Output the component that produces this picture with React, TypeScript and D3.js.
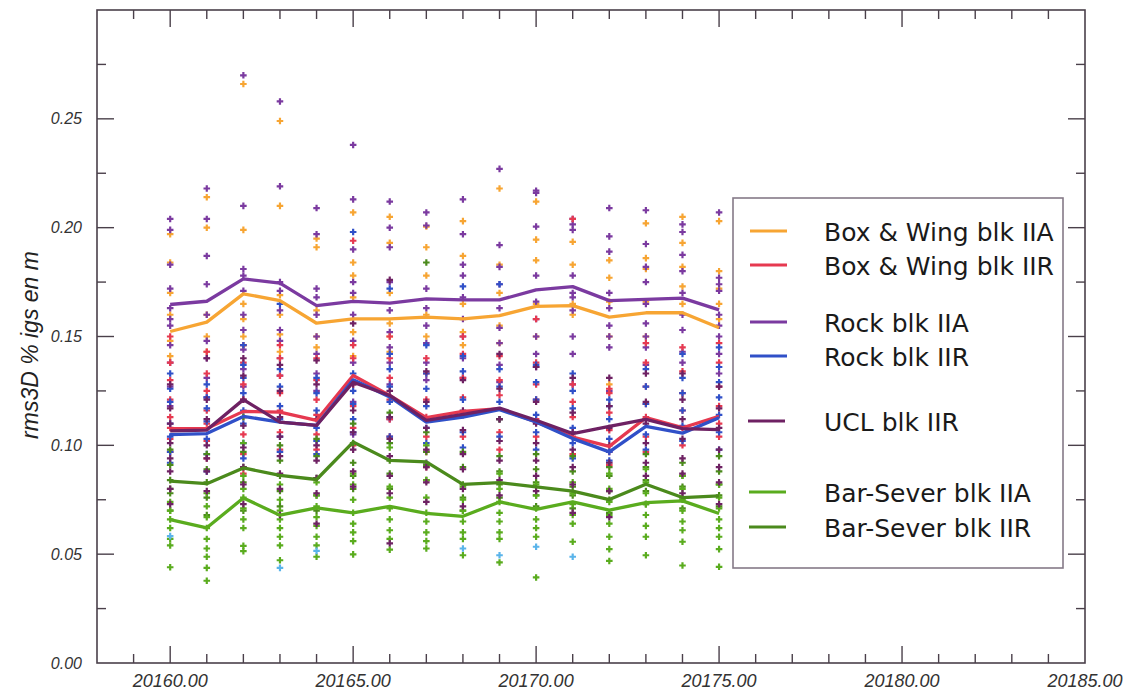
import React from "react";
import * as d3 from "d3";

// ---------------- DATA ----------------
const epochs = [20160, 20161, 20162, 20163, 20164, 20165, 20166, 20167, 20168, 20169, 20170, 20171, 20172, 20173, 20174, 20175];

const seriesNames = [
  "Box & Wing blk IIA",
  "Box & Wing blk IIR",
  "Rock blk IIA",
  "Rock blk IIR",
  "UCL blk IIR",
  "Bar-Sever blk IIA",
  "Bar-Sever blk IIR",
];

// mean lines
const boxWingIIA = [0.1523, 0.1566, 0.1696, 0.1665, 0.1561, 0.1581, 0.1581, 0.1589, 0.1581, 0.1596, 0.1638, 0.1642, 0.1589, 0.1609, 0.1609, 0.154];
const boxWingIIR = [0.1077, 0.1077, 0.1156, 0.1153, 0.1115, 0.1321, 0.1229, 0.1127, 0.1156, 0.1168, 0.1107, 0.1038, 0.0995, 0.1127, 0.1081, 0.1133];
const rockIIA = [0.1647, 0.1662, 0.1765, 0.1745, 0.1642, 0.1661, 0.1653, 0.1673, 0.1668, 0.1668, 0.1714, 0.1729, 0.1665, 0.1671, 0.1676, 0.1622];
const rockIIR = [0.1049, 0.1054, 0.1133, 0.1107, 0.1092, 0.1301, 0.1222, 0.1107, 0.113, 0.1164, 0.1107, 0.1031, 0.097, 0.1087, 0.1056, 0.1127];
const uclIIR = [0.1066, 0.107, 0.121, 0.1107, 0.1092, 0.129, 0.1229, 0.1115, 0.1142, 0.1171, 0.1115, 0.1054, 0.1087, 0.1119, 0.1077, 0.1072];
const barSeverIIA = [0.0659, 0.0621, 0.0758, 0.0679, 0.0713, 0.069, 0.072, 0.0687, 0.0674, 0.074, 0.0706, 0.074, 0.0702, 0.0737, 0.0745, 0.0687];
const barSeverIIR = [0.0836, 0.0824, 0.0896, 0.0862, 0.0843, 0.1015, 0.0931, 0.0924, 0.0821, 0.0829, 0.0809, 0.079, 0.0751, 0.0821, 0.076, 0.0768];

// individual solutions (scatter), one list per epoch
const boxWingIIAPts = [
  [0.197, 0.184, 0.170, 0.160, 0.148, 0.141],
  [0.214, 0.200, 0.160, 0.150, 0.143],
  [0.266, 0.199, 0.165, 0.158, 0.150, 0.146],
  [0.249, 0.210, 0.169, 0.160, 0.151, 0.143],
  [0.195, 0.191, 0.162, 0.150, 0.145],
  [0.207, 0.184, 0.178, 0.168, 0.152, 0.141],
  [0.205, 0.193, 0.170, 0.156, 0.150, 0.143],
  [0.2005, 0.191, 0.178, 0.160, 0.150],
  [0.203, 0.187, 0.165, 0.152, 0.146],
  [0.218, 0.183, 0.170, 0.155, 0.147],
  [0.212, 0.1945, 0.185, 0.165, 0.150],
  [0.1935, 0.183, 0.165, 0.160],
  [0.185, 0.177, 0.166, 0.150, 0.128],
  [0.202, 0.186, 0.181, 0.166, 0.150],
  [0.205, 0.193, 0.182, 0.173, 0.165],
  [0.203, 0.180, 0.172, 0.165, 0.158],
];
const rockIIAPts = [
  [0.204, 0.199, 0.183, 0.172, 0.163, 0.158, 0.155, 0.146, 0.138, 0.127, 0.118],
  [0.218, 0.204, 0.187, 0.174, 0.160, 0.148, 0.140, 0.131, 0.122],
  [0.270, 0.210, 0.181, 0.178, 0.171, 0.160, 0.153, 0.144, 0.135, 0.127],
  [0.258, 0.219, 0.175, 0.171, 0.162, 0.153, 0.148, 0.140, 0.132],
  [0.209, 0.197, 0.172, 0.168, 0.160, 0.150, 0.142, 0.133, 0.125],
  [0.238, 0.213, 0.190, 0.175, 0.170, 0.160, 0.148, 0.138, 0.120, 0.105],
  [0.212, 0.200, 0.191, 0.175, 0.162, 0.152, 0.145, 0.138, 0.128, 0.112],
  [0.207, 0.201, 0.172, 0.163, 0.155, 0.147, 0.138, 0.130, 0.092],
  [0.213, 0.197, 0.183, 0.178, 0.168, 0.158, 0.150, 0.140, 0.131],
  [0.227, 0.192, 0.182, 0.174, 0.163, 0.154, 0.147, 0.137, 0.129],
  [0.217, 0.216, 0.2005, 0.178, 0.166, 0.158, 0.150, 0.142, 0.136],
  [0.204, 0.2015, 0.199, 0.178, 0.170, 0.168, 0.162, 0.150, 0.142, 0.128],
  [0.209, 0.196, 0.189, 0.170, 0.163, 0.155, 0.150, 0.145, 0.125],
  [0.208, 0.1925, 0.182, 0.175, 0.165, 0.156, 0.150, 0.145, 0.137],
  [0.2015, 0.198, 0.1875, 0.180, 0.170, 0.160, 0.153, 0.143, 0.138],
  [0.207, 0.177, 0.174, 0.171, 0.160, 0.155, 0.150, 0.142, 0.133],
];
const boxWingIIRPts = [
  [0.150, 0.138, 0.130, 0.121, 0.113, 0.108, 0.103, 0.097],
  [0.143, 0.133, 0.125, 0.116, 0.110, 0.102, 0.094],
  [0.146, 0.138, 0.128, 0.121, 0.113, 0.105, 0.096, 0.087],
  [0.146, 0.140, 0.132, 0.124, 0.116, 0.106, 0.098],
  [0.140, 0.130, 0.121, 0.114, 0.105, 0.098],
  [0.194, 0.146, 0.140, 0.128, 0.118, 0.108, 0.100],
  [0.150, 0.140, 0.131, 0.121, 0.112, 0.104],
  [0.140, 0.133, 0.121, 0.113, 0.104, 0.097, 0.090],
  [0.150, 0.142, 0.131, 0.122, 0.114, 0.104],
  [0.141, 0.130, 0.123, 0.112, 0.106, 0.098],
  [0.158, 0.138, 0.128, 0.121, 0.112, 0.104],
  [0.204, 0.128, 0.120, 0.113, 0.104, 0.096],
  [0.126, 0.124, 0.115, 0.107, 0.097, 0.091],
  [0.147, 0.138, 0.127, 0.119, 0.113, 0.104, 0.097],
  [0.145, 0.134, 0.124, 0.116, 0.108, 0.100],
  [0.147, 0.138, 0.127, 0.118, 0.110, 0.104],
];
const rockIIRPts = [
  [0.133, 0.126, 0.120, 0.110, 0.104, 0.097, 0.092],
  [0.128, 0.122, 0.117, 0.111, 0.103, 0.096, 0.088],
  [0.146, 0.137, 0.131, 0.124, 0.116, 0.110, 0.101, 0.094],
  [0.165, 0.135, 0.127, 0.118, 0.112, 0.104, 0.097],
  [0.131, 0.124, 0.116, 0.108, 0.102, 0.096],
  [0.198, 0.133, 0.125, 0.119, 0.112, 0.106],
  [0.172, 0.142, 0.135, 0.127, 0.120, 0.113, 0.104],
  [0.146, 0.133, 0.126, 0.118, 0.108, 0.101],
  [0.173, 0.141, 0.134, 0.121, 0.114, 0.106, 0.099],
  [0.174, 0.135, 0.127, 0.120, 0.112, 0.104],
  [0.137, 0.129, 0.121, 0.114, 0.106, 0.098],
  [0.133, 0.125, 0.117, 0.108, 0.101, 0.094],
  [0.121, 0.118, 0.112, 0.103, 0.097, 0.093],
  [0.135, 0.127, 0.119, 0.112, 0.105, 0.098],
  [0.142, 0.131, 0.124, 0.116, 0.109, 0.102],
  [0.145, 0.136, 0.129, 0.122, 0.114, 0.106, 0.098],
];
const uclIIRPts = [
  [0.128, 0.117, 0.110, 0.101, 0.094, 0.088, 0.080, 0.073],
  [0.140, 0.121, 0.112, 0.100, 0.094, 0.088, 0.079],
  [0.140, 0.132, 0.121, 0.109, 0.099, 0.090, 0.082, 0.073],
  [0.137, 0.125, 0.113, 0.104, 0.095, 0.087, 0.080, 0.068],
  [0.139, 0.128, 0.112, 0.100, 0.093, 0.085, 0.078, 0.064],
  [0.156, 0.128, 0.116, 0.106, 0.098, 0.088, 0.081],
  [0.176, 0.125, 0.113, 0.103, 0.095, 0.086, 0.078, 0.055],
  [0.134, 0.120, 0.108, 0.098, 0.090, 0.083, 0.074],
  [0.130, 0.116, 0.107, 0.096, 0.089, 0.080, 0.072],
  [0.142, 0.126, 0.112, 0.102, 0.093, 0.084, 0.077],
  [0.136, 0.120, 0.110, 0.101, 0.093, 0.086, 0.079],
  [0.131, 0.115, 0.106, 0.098, 0.090, 0.082, 0.069],
  [0.131, 0.118, 0.108, 0.100, 0.092, 0.079, 0.067],
  [0.133, 0.120, 0.110, 0.101, 0.092, 0.086],
  [0.133, 0.121, 0.112, 0.103, 0.094, 0.087, 0.078],
  [0.127, 0.117, 0.108, 0.098, 0.090, 0.083, 0.073],
];
const barSeverIIAPts = [
  [0.080, 0.074, 0.070, 0.066, 0.062, 0.057, 0.054, 0.044],
  [0.078, 0.072, 0.067, 0.062, 0.057, 0.0526, 0.0488, 0.0437, 0.0378],
  [0.101, 0.086, 0.080, 0.076, 0.071, 0.066, 0.062, 0.0538, 0.0514],
  [0.082, 0.075, 0.070, 0.066, 0.062, 0.058, 0.054, 0.0472],
  [0.083, 0.077, 0.072, 0.067, 0.063, 0.058, 0.054, 0.0488],
  [0.087, 0.082, 0.075, 0.069, 0.064, 0.060, 0.056, 0.0499],
  [0.099, 0.081, 0.076, 0.071, 0.066, 0.061, 0.057, 0.0521],
  [0.100, 0.084, 0.076, 0.069, 0.065, 0.060, 0.056, 0.0526],
  [0.081, 0.075, 0.070, 0.065, 0.060, 0.057, 0.0495],
  [0.087, 0.080, 0.074, 0.069, 0.065, 0.060, 0.057, 0.0462],
  [0.082, 0.077, 0.071, 0.066, 0.062, 0.058, 0.0393],
  [0.083, 0.078, 0.073, 0.068, 0.064, 0.0557],
  [0.087, 0.080, 0.074, 0.068, 0.064, 0.058, 0.0523, 0.0469],
  [0.089, 0.083, 0.078, 0.073, 0.068, 0.063, 0.058, 0.0495],
  [0.086, 0.080, 0.075, 0.070, 0.065, 0.061, 0.0557, 0.0448],
  [0.082, 0.076, 0.071, 0.066, 0.062, 0.058, 0.0523, 0.0442],
];
const barSeverIIRPts = [
  [0.098, 0.091, 0.084, 0.078, 0.070],
  [0.096, 0.089, 0.083, 0.076, 0.068],
  [0.113, 0.097, 0.090, 0.083, 0.070],
  [0.100, 0.093, 0.086, 0.079, 0.072],
  [0.103, 0.095, 0.085, 0.077, 0.070],
  [0.110, 0.101, 0.092, 0.086, 0.080],
  [0.115, 0.101, 0.093, 0.087, 0.080],
  [0.184, 0.106, 0.097, 0.091, 0.084],
  [0.097, 0.090, 0.082, 0.076, 0.070],
  [0.112, 0.095, 0.088, 0.082, 0.076],
  [0.096, 0.089, 0.083, 0.077, 0.072],
  [0.095, 0.088, 0.081, 0.077, 0.071],
  [0.090, 0.086, 0.079, 0.075, 0.069],
  [0.096, 0.090, 0.084, 0.079, 0.073],
  [0.092, 0.086, 0.081, 0.076, 0.071],
  [0.095, 0.088, 0.082, 0.077, 0.072],
];
// unlabelled light-blue solutions
const otherPts = [
  [0.0583], [], [], [0.0437], [0.0515], [], [], [], [0.0526], [0.0495], [0.0534], [0.0488], [], [], [], [],
];

const xTickLabels = ["20160.00", "20165.00", "20170.00", "20175.00", "20180.00", "20185.00"];
const yTickLabels = ["0.00", "0.05", "0.10", "0.15", "0.20", "0.25"];

// ---------------- STYLE ----------------
const W = 1140;
const H = 693;
const left = 97, right = 1085, top = 10, bottom = 663;
const colors = ["#f7a533", "#e63950", "#7b3aa0", "#3050c8", "#6e2163", "#5aac1e", "#4b8a1c"];
const otherColor = "#5ab4ea";
const axisColor = "#4a404a";

export default function App() {
  const x = d3.scaleLinear().domain([20158, 20185]).range([left, right]);
  const y = d3.scaleLinear().domain([0, 0.3]).range([bottom, top]);

  const lines = [boxWingIIA, boxWingIIR, rockIIA, rockIIR, uclIIR, barSeverIIA, barSeverIIR];
  const pts = [boxWingIIAPts, boxWingIIRPts, rockIIAPts, rockIIRPts, uclIIRPts, barSeverIIAPts, barSeverIIRPts];

  const lineGen = d3.line<number>().x((_, i) => x(epochs[i])).y((d) => y(d));
  const cross = d3.symbol(d3.symbolCross, 24)() as string;

  const xMinor = d3.range(20159, 20185, 1);
  const xMajorVals = d3.range(20160, 20186, 5);
  const yMinor = d3.range(0.025, 0.3, 0.025);
  const yMajorVals = d3.range(0, 0.26, 0.05);

  const scatterOrder = [0, 2, 1, 3, 6, 5, 4];
  const lineOrder = [0, 2, 1, 3, 4, 6, 5];

  const legendRows = [231, 265, 322, 356, 421, 492, 527];
  const legendX1 = [750, 750, 750, 750, 748, 749, 749];

  const MAJ = 17, MIN = 9;

  return (
    <svg width={W} height={H} style={{ position: "absolute", left: 0, top: 0, background: "#fff" }}>
      <rect x={0} y={0} width={W} height={H} fill="#fff" />

      {/* scatter */}
      {scatterOrder.map((si) => (
        <g key={"s" + si} fill={colors[si]}>
          {pts[si].map((col, ci) =>
            col.map((v, k) => (
              <path key={ci + "-" + k} d={cross} transform={`translate(${x(epochs[ci])},${y(v)})`} />
            ))
          )}
        </g>
      ))}
      <g fill={otherColor}>
        {otherPts.map((col, ci) =>
          col.map((v, k) => <path key={ci + "-" + k} d={cross} transform={`translate(${x(epochs[ci])},${y(v)})`} />)
        )}
      </g>

      {/* mean lines */}
      {lineOrder.map((si) => (
        <path key={"l" + si} d={lineGen(lines[si]) || ""} fill="none" stroke={colors[si]} strokeWidth={3.3} strokeLinejoin="round" />
      ))}

      {/* frame */}
      <rect x={left} y={top} width={right - left} height={bottom - top} fill="none" stroke={axisColor} strokeWidth={1.6} />

      {/* x ticks */}
      {xMinor.map((v) => {
        const len = xMajorVals.some((m) => Math.abs(m - v) < 1e-6) ? MAJ : MIN;
        return (
          <g key={"xt" + v} stroke={axisColor} strokeWidth={1.4}>
            <line x1={x(v)} x2={x(v)} y1={bottom} y2={bottom - len} />
            <line x1={x(v)} x2={x(v)} y1={top} y2={top + len} />
          </g>
        );
      })}
      {/* y ticks */}
      {yMinor.map((v) => {
        const len = yMajorVals.some((m) => Math.abs(m - v) < 1e-6) ? MAJ : MIN;
        return (
          <g key={"yt" + v} stroke={axisColor} strokeWidth={1.4}>
            <line x1={left} x2={left + len} y1={y(v)} y2={y(v)} />
            <line x1={right} x2={right - len} y1={y(v)} y2={y(v)} />
          </g>
        );
      })}

      {/* tick labels */}
      {xMajorVals.map((v, i) => (
        <text key={"xl" + v} x={x(v)} y={687} textAnchor="middle" fontFamily="Liberation Sans, Arial, sans-serif" fontStyle="italic" fontSize={18} fill="#333">
          {xTickLabels[i]}
        </text>
      ))}
      {yMajorVals.map((v, i) => (
        <text key={"yl" + v} x={82} y={y(v) + 5.5} textAnchor="end" fontFamily="Liberation Sans, Arial, sans-serif" fontStyle="italic" fontSize={16} fill="#333">
          {yTickLabels[i]}
        </text>
      ))}

      {/* y title */}
      <text transform="translate(38,345) rotate(-90)" textAnchor="middle" fontFamily="Liberation Sans, Arial, sans-serif" fontStyle="italic" fontSize={23} fill="#222">
        rms3D % igs en m
      </text>

      {/* legend */}
      <rect x={733} y={198} width={330} height={370} fill="#fff" stroke="#857a88" strokeWidth={1.6} />
      {seriesNames.map((name, i) => (
        <g key={"lg" + i}>
          <line x1={legendX1[i]} x2={legendX1[i] + 37} y1={legendRows[i]} y2={legendRows[i]} stroke={colors[i]} strokeWidth={3} />
          <text x={824} y={legendRows[i] + 9.5} fontFamily="DejaVu Sans, Verdana, sans-serif" fontSize={25} fill="#1a1a1a">
            {name}
          </text>
        </g>
      ))}
    </svg>
  );
}
